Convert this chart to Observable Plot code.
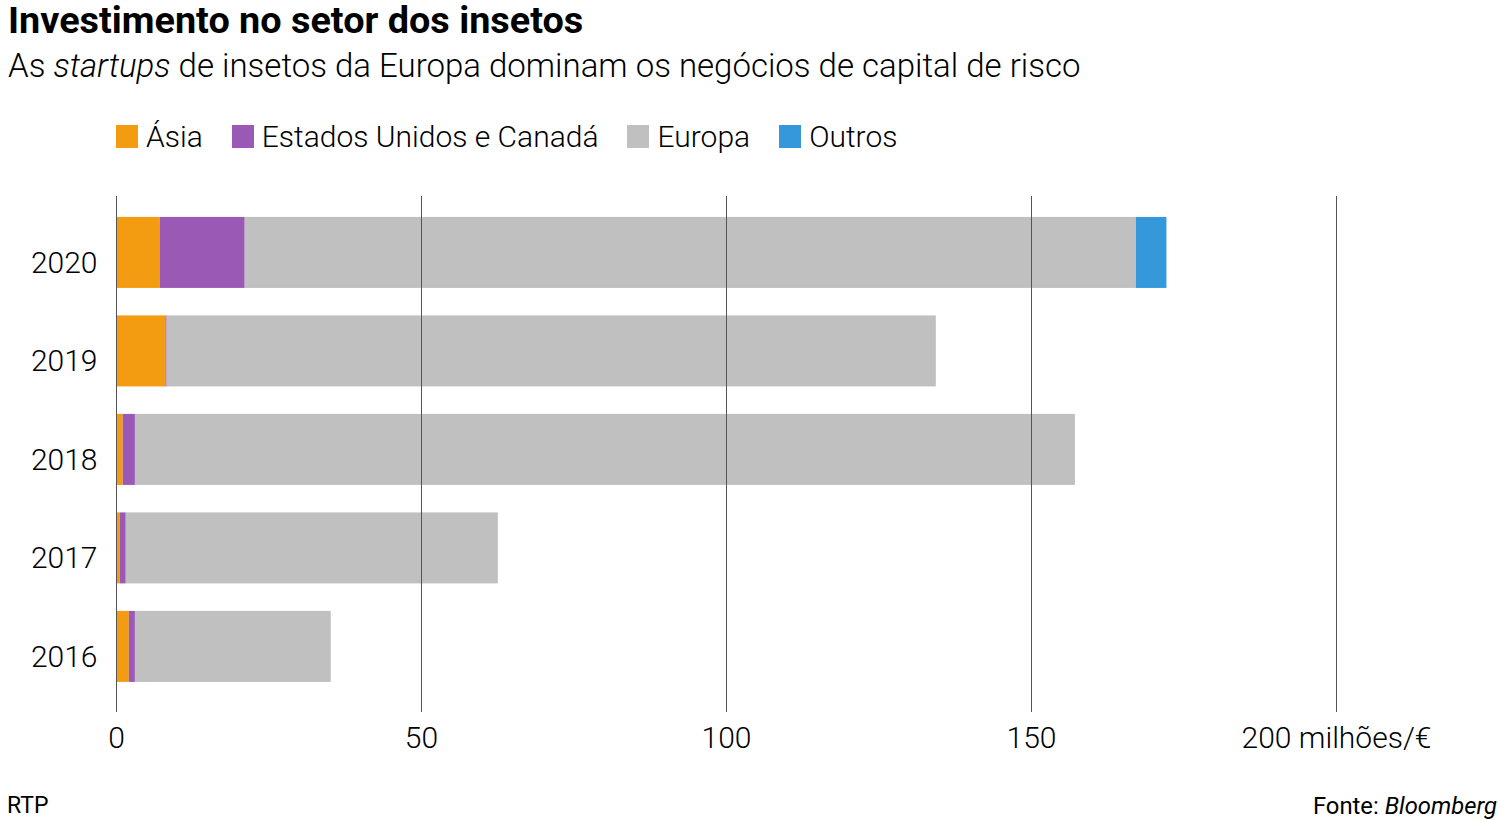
<!DOCTYPE html>
<html>
<head>
<meta charset="utf-8">
<script src="https://cdn.jsdelivr.net/npm/d3@7"></script>
<script src="https://cdn.jsdelivr.net/npm/@observablehq/plot@0.6"></script>
<style>
  html, body { margin: 0; padding: 0; background: #fff; width: 1500px; height: 820px; overflow: hidden; }
  body { font-family: Roboto, "Noto Sans", sans-serif; color: #000; position: relative; }
  .abs { position: absolute; white-space: nowrap; }
  #title { left: 8px; top: -2px; font-size: 37.8px; font-weight: 700; }
  #subtitle { left: 8px; top: 46px; font-size: 33px; font-weight: 300; }
  #legend { left: 116px; top: 119px; font-size: 30px; font-weight: 300; display: flex; align-items: center; }
  #legend .item { display: flex; align-items: center; margin-right: 29px; }
  #legend .sw { width: 22px; height: 23px; margin-right: 8px; }
  #chart { left: 0; top: 180px; }
  #rtp { left: 7px; top: 792px; font-size: 23px; }
  #src { right: 3px; top: 792px; font-size: 23.8px; }
</style>
</head>
<body>
<div id="title" class="abs">Investimento no setor dos insetos</div>
<div id="subtitle" class="abs">As <i>startups</i> de insetos da Europa dominam os negócios de capital de risco</div>
<div id="legend" class="abs"></div>
<div id="chart" class="abs"></div>
<div id="rtp" class="abs">RTP</div>
<div id="src" class="abs">Fonte: <i>Bloomberg</i></div>
<script>
const years = ["2020", "2019", "2018", "2017", "2016"];
const regions = ["Ásia", "Estados Unidos e Canadá", "Europa", "Outros"];
const colors = ["#F39C12", "#9B59B6", "#C0C0C0", "#3498DB"];
const asia   = [7.2, 8.1, 1.1, 0.6, 2.1];
const usa    = [13.9, 0.2, 2.0, 1.0, 1.0];
const europe = [146.1, 126.1, 154.1, 61.0, 32.1];
const others = [5.0, 0, 0, 0, 0];
const xTicks = [0, 50, 100, 150, 200];

const series = [asia, usa, europe, others];
const data = [];
years.forEach((y, i) => {
  regions.forEach((r, j) => {
    data.push({year: y, region: r, value: series[j][i]});
  });
});

// legend
const legend = document.getElementById("legend");
regions.forEach((r, j) => {
  const it = document.createElement("div");
  it.className = "item";
  const sw = document.createElement("span");
  sw.className = "sw";
  sw.style.background = colors[j];
  const t = document.createElement("span");
  t.textContent = r;
  it.appendChild(sw); it.appendChild(t);
  legend.appendChild(it);
});

const chart = Plot.plot({
  width: 1500,
  height: 600,
  marginLeft: 116,
  marginRight: 164,
  marginTop: 16,
  marginBottom: 68,
  style: {fontFamily: "Roboto, 'Noto Sans', sans-serif", fontSize: "30px", fontWeight: 300, color: "#000", background: "#fff"},
  x: {domain: [0, 200], ticks: xTicks},
  y: {domain: years, paddingInner: 0.279, paddingOuter: 0.259, align: 0.41, round: false},
  color: {domain: regions, range: colors},
  marks: [
    Plot.barX(data, {x: "value", y: "year", fill: "region", order: regions}),
    Plot.ruleX(xTicks, {stroke: "#555", strokeWidth: 1}),
    Plot.axisX({ticks: xTicks, tickSize: 0, tickPadding: 14, fontSize: 30, label: null,
      tickFormat: d => d === 200 ? "200 milhões/€" : String(d)}),
    Plot.axisY({tickSize: 0, tickPadding: 19, fontSize: 30, label: null, dy: 10})
  ]
});
document.getElementById("chart").appendChild(chart);
</script>
</body>
</html>
